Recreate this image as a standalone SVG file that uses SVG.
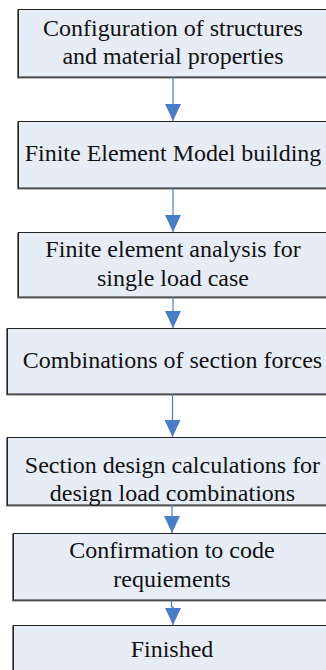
<svg xmlns="http://www.w3.org/2000/svg" width="326" height="670" viewBox="0 0 326 670">
<style>
.box{fill:#E7EDF7;stroke:#222;stroke-width:1}
.sh{fill:#777}
.t{font-family:'Liberation Serif','Times New Roman',serif;font-size:24px;fill:#111;text-anchor:middle}
.c{stroke:#4A7CC7;stroke-width:1.2;fill:none}
.ah{fill:#4A7CC7}
</style>
<defs>
<marker id="arr" viewBox="0 0 17 16" refX="17" refY="8" markerWidth="17" markerHeight="16" markerUnits="userSpaceOnUse" orient="auto">
<path d="M0,0 L17,8 L0,16 Z" class="ah"/>
</marker>
</defs>
<g id="n1"><rect class="sh" x="17" y="9.5" width="320" height="69"/><rect class="box" x="18.5" y="9.5" width="320" height="67.5"/><text class="t" x="173" y="36">Configuration of structures</text><text class="t" x="173" y="64">and material properties</text></g>
<g id="n2"><rect class="sh" x="17" y="121.5" width="320" height="68"/><rect class="box" x="18.5" y="121.5" width="320" height="66.5"/><text class="t" x="173" y="161">Finite Element Model building</text></g>
<g id="n3"><rect class="sh" x="17" y="232.5" width="320" height="66"/><rect class="box" x="18.5" y="232.5" width="320" height="64.5"/><text class="t" x="173" y="257">Finite element analysis for</text><text class="t" x="173" y="286">single load case</text></g>
<g id="n4"><rect class="sh" x="6" y="328.5" width="340" height="67"/><rect class="box" x="7.5" y="328.5" width="340" height="65.5"/><text class="t" x="172.5" y="368">Combinations of section forces</text></g>
<g id="n5"><rect class="sh" x="6" y="437.5" width="340" height="69"/><rect class="box" x="7.5" y="437.5" width="340" height="67.5"/><text class="t" x="172.5" y="473">Section design calculations for</text><text class="t" x="172.5" y="501">design load combinations</text></g>
<g id="n6"><rect class="sh" x="12" y="533.5" width="330" height="68"/><rect class="box" x="13.5" y="533.5" width="330" height="66.5"/><text class="t" x="172" y="558">Confirmation to code</text><text class="t" x="172" y="587">requiements</text></g>
<g id="n7"><rect class="sh" x="12" y="625.5" width="330" height="60"/><rect class="box" x="13.5" y="625.5" width="330" height="60"/><text class="t" x="172" y="657">Finished</text></g>
<g id="connectors">
<path class="c" d="M173,77 L173,121" marker-end="url(#arr)"/>
<path class="c" d="M173,188 L173,232" marker-end="url(#arr)"/>
<path class="c" d="M173,297 L173,328" marker-end="url(#arr)"/>
<path class="c" d="M172.5,394 L172.5,437" marker-end="url(#arr)"/>
<path class="c" d="M172,505 L172,533" marker-end="url(#arr)"/>
<path class="c" d="M171.5,600 L171.5,607 L173,607 L173,625" marker-end="url(#arr)"/>
</g>
</svg>
